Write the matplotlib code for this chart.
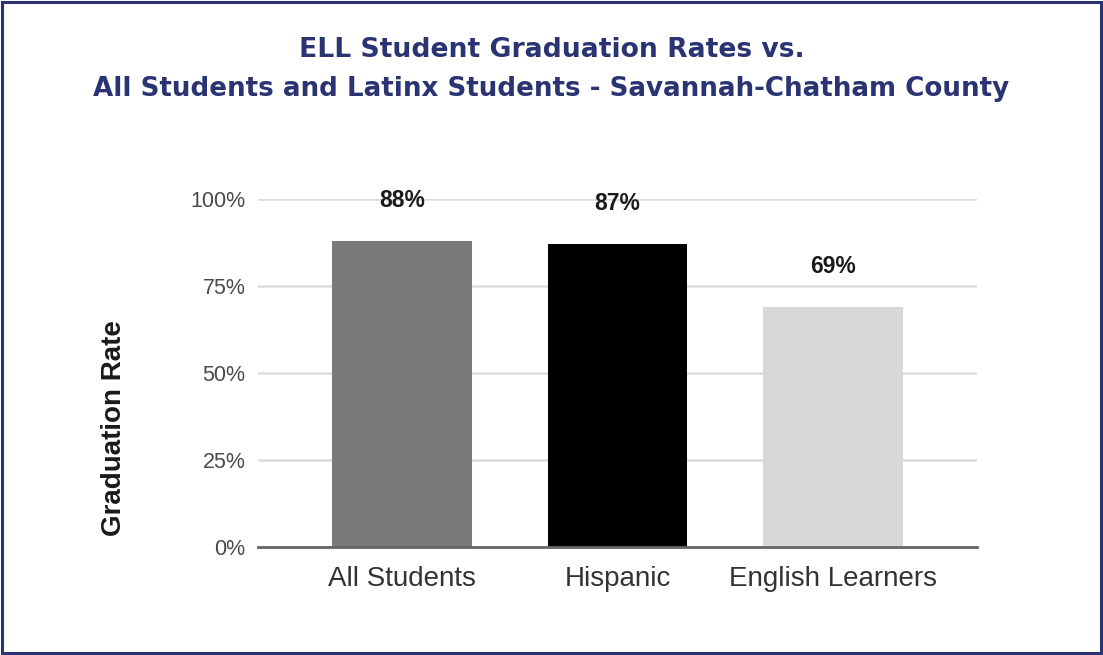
import matplotlib
matplotlib.use("Agg")
import matplotlib.pyplot as plt
from matplotlib.patches import Rectangle
from matplotlib.ticker import FixedLocator

categories = ["All Students", "Hispanic", "English Learners"]
rates = [88, 87, 69]
bar_colors = ["#7c797a", "#000000", "#d8d8d8"]
y_ticks = [0, 25, 50, 75, 100]
y_tick_labels = ["0%", "25%", "50%", "75%", "100%"]

navy = "#2b3473"

fig = plt.figure(figsize=(11.03, 6.55), dpi=100)
fig.patch.set_facecolor("white")

# navy frame around the whole graphic
fig.patches.append(Rectangle((0.0015, 0.003), 0.997, 0.994, transform=fig.transFigure,
                             fill=False, edgecolor=navy, linewidth=2.2, zorder=10))

fig.text(0.5, 1 - 50 / 655, "ELL Student Graduation Rates vs.", ha="center", va="center",
         color=navy, fontsize=19.2, fontweight="bold", family="DejaVu Sans")
fig.text(0.5, 1 - 89 / 655, "All Students and Latinx Students - Savannah-Chatham County",
         ha="center", va="center", color=navy, fontsize=18.8, fontweight="bold",
         family="DejaVu Sans")

ax = fig.add_axes([258 / 1103, 1 - 547 / 655, (977 - 258) / 1103, (547 - 199) / 655])
x = range(len(categories))
ax.bar(x, rates, width=0.65, color=bar_colors, zorder=3)
ax.set_xlim(-0.67, 2.67)
ax.set_ylim(0, 100)

for xi, v in zip(x, rates):
    ax.annotate(f"{v}%", (xi, v), xytext=(0, 29), textcoords="offset points",
                ha="center", va="center", fontsize=16.5, fontweight="bold",
                color="#1a1a1a", family="Liberation Sans")

ax.yaxis.set_major_locator(FixedLocator(y_ticks))
ax.set_yticklabels(y_tick_labels, family="Liberation Sans", fontsize=15.5, color="#4a4a4a")
ax.set_xticks(list(x))
ax.set_xticklabels(categories, family="Liberation Sans", fontsize=20, color="#333333")
ax.tick_params(axis="y", length=0, pad=9)
ax.tick_params(axis="x", length=0, pad=14)
ax.grid(axis="y", color="#dcdcdc", linewidth=1.8, zorder=0)
for s in ["top", "right", "left"]:
    ax.spines[s].set_visible(False)
ax.spines["bottom"].set_color("#666666")
ax.spines["bottom"].set_linewidth(2)
ax.spines["bottom"].set_zorder(4)

ax.set_ylabel("Graduation Rate", family="Liberation Sans", fontsize=20,
              fontweight="bold", color="#1a1a1a")
ax.yaxis.set_label_coords((127 - 258) / 719, (547 - 428) / 348)

fig.savefig("out.png", dpi=100, facecolor="white")
